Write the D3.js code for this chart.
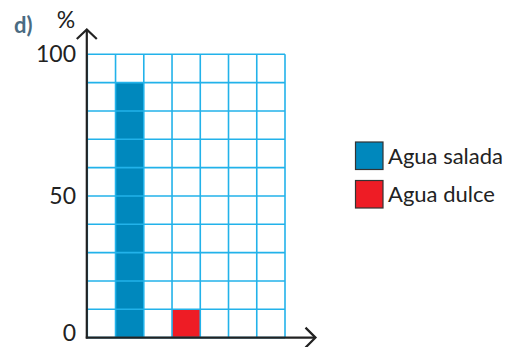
<!DOCTYPE html>
<html><head><meta charset="utf-8">
<script src="https://cdn.jsdelivr.net/npm/d3@7"></script>
<style>
html,body{margin:0;padding:0;background:#fff;}
svg{display:block;font-family:Lato, "Open Sans", sans-serif;}
</style></head>
<body>
<script>
const categories = ["Agua salada", "Agua dulce"];
const values = [90, 10];
const colors = ["#0088bd", "#ee1c25"];
const slots = ["s0", "Agua salada", "s2", "Agua dulce", "s4", "s5", "s6"];
const yTicks = [0, 50, 100];
const gridStep = 10;

const W = 518, H = 347;
const svg = d3.select("body").append("svg").attr("width", W).attr("height", H);

const x0 = 87.3, x1 = 285, yTop = 54.3, yBot = 337.6;
const x = d3.scaleBand().domain(slots).range([x0, x1]).paddingInner(0).paddingOuter(0);
const y = d3.scaleLinear().domain([0, 100]).range([yBot, yTop]);

// bars
svg.selectAll("rect.bar").data(categories).join("rect")
  .attr("class", "bar")
  .attr("x", d => x(d))
  .attr("width", x.bandwidth())
  .attr("y", (d, i) => y(values[i]))
  .attr("height", (d, i) => y(0) - y(values[i]))
  .attr("fill", (d, i) => colors[i]);

// grid
const gridVals = d3.range(0, 100 + gridStep, gridStep);
const gridCol = "#22b2ea";
svg.selectAll("line.hg").data(gridVals).join("line")
  .attr("x1", x0).attr("x2", x1)
  .attr("y1", d => y(d)).attr("y2", d => y(d))
  .attr("stroke", gridCol).attr("stroke-width", 1.6);
const vEdges = slots.map(s => x(s)).concat([x1]);
svg.selectAll("line.vg").data(vEdges).join("line")
  .attr("x1", d => d).attr("x2", d => d)
  .attr("y1", yTop).attr("y2", yBot)
  .attr("stroke", gridCol).attr("stroke-width", 1.6);

// axes
const axCol = "#222";
svg.append("line").attr("x1", x0 - 0.5).attr("x2", x0 - 0.5).attr("y1", yBot + 1).attr("y2", 30)
  .attr("stroke", axCol).attr("stroke-width", 2.2);
svg.append("path").attr("d", `M${x0 - 10.5},${39} L${x0 - 0.5},${29.5} L${x0 + 9.5},${39}`)
  .attr("fill", "none").attr("stroke", axCol).attr("stroke-width", 2.2);
svg.append("line").attr("x1", x0 - 1.5).attr("x2", 315).attr("y1", yBot).attr("y2", yBot)
  .attr("stroke", axCol).attr("stroke-width", 2.2);
svg.append("path").attr("d", `M${305.5},${yBot - 10} L${315.5},${yBot} L${305.5},${yBot + 10}`)
  .attr("fill", "none").attr("stroke", axCol).attr("stroke-width", 2.2);

// y tick labels
svg.selectAll("text.yt").data(yTicks).join("text")
  .attr("x", 76)
  .attr("y", d => y(d) + (d === 0 ? -5 : 0))
  .attr("dy", "0.35em")
  .attr("text-anchor", "end")
  .attr("font-size", 23)
  .attr("fill", "#222")
  .text(d => d);

svg.append("text").attr("x", 66).attr("y", 28).attr("text-anchor", "middle")
  .attr("font-size", 23).attr("fill", "#222").text("%");
svg.append("text").attr("x", 14).attr("y", 33)
  .attr("font-size", 22).attr("font-weight", "bold").attr("fill", "#4a6b82").text("d)");

// legend
const lg = svg.append("g");
categories.forEach((c, i) => {
  const ly = 142 + i * 38.5;
  lg.append("rect").attr("x", 355.5).attr("y", ly).attr("width", 27.5).attr("height", 27.5)
    .attr("fill", colors[i]).attr("stroke", "#333").attr("stroke-width", 1.2);
  lg.append("text").attr("x", 388).attr("y", ly + 14).attr("dy", "0.35em")
    .attr("font-size", 22).attr("fill", "#222").text(c);
});
</script>
</body></html>
